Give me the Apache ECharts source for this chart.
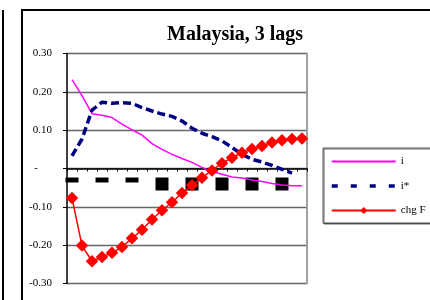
<!DOCTYPE html>
<html>
<head>
<meta charset="utf-8">
<script src="https://cdn.jsdelivr.net/npm/echarts@6/dist/echarts.min.js"></script>
<style>html,body{margin:0;padding:0;background:#fff}#c{width:430px;height:300px}</style>
</head>
<body>
<div id="c"></div>
<script>
var titleText = 'Malaysia, 3 lags';
var categories = ['1','2','3','4','5','6','7','8','9','10','11','12','13','14','15','16','17','18','19','20','21','22','23','24'];
var seriesNames = ['i', 'i*', 'chg F'];
var iVals = [0.232, 0.190, 0.143, 0.139, 0.133, 0.116, 0.101, 0.087, 0.065, 0.050, 0.037, 0.026, 0.016, 0.003, -0.008, -0.015, -0.022, -0.025, -0.030, -0.034, -0.039, -0.043, -0.045, -0.045];
var iStarVals = [0.033, 0.077, 0.152, 0.173, 0.170, 0.172, 0.170, 0.159, 0.150, 0.142, 0.136, 0.124, 0.105, 0.092, 0.083, 0.072, 0.055, 0.037, 0.024, 0.017, 0.008, -0.002, -0.012, null];
var chgFVals = [-0.077, -0.201, -0.242, -0.231, -0.220, -0.205, -0.182, -0.160, -0.133, -0.109, -0.088, -0.064, -0.044, -0.024, -0.005, 0.014, 0.028, 0.041, 0.051, 0.059, 0.068, 0.074, 0.077, 0.078];
var yTicks = { min: -0.3, max: 0.3, step: 0.1 };

var FONT = '"Liberation Serif", "Times New Roman", serif';
var GRID_TOP = 53.5, GRID_BOTTOM = 16.5, H = 300;
var plotH = H - GRID_TOP - GRID_BOTTOM;
var zeroOffset = -plotH * (0 - yTicks.min) / (yTicks.max - yTicks.min);

var chart = echarts.init(document.getElementById('c'), null, { renderer: 'canvas' });
chart.setOption({
  animation: false,
  backgroundColor: '#fff',
  textStyle: { fontFamily: FONT },
  title: {
    text: titleText, left: 162, top: 20,
    textStyle: { fontFamily: FONT, fontSize: 20, fontWeight: 'bold', color: '#000' }
  },
  graphic: [
    { type: 'rect', shape: { x: 22, y: 10, width: 420, height: 300 }, style: { fill: 'none', stroke: '#000', lineWidth: 2 }, silent: true },
    { type: 'line', shape: { x1: 3, y1: 10, x2: 3, y2: 300 }, style: { stroke: '#000', lineWidth: 2 }, silent: true }
  ],
  legend: {
    orient: 'vertical', left: 323, top: 148,
    padding: [8, 20, 7, 7],
    itemWidth: 64, itemHeight: 9, itemGap: 13.5,
    borderColor: '#555', borderWidth: 1, backgroundColor: '#fff',
    shadowColor: 'rgba(0,0,0,0.6)', shadowOffsetX: 1, shadowOffsetY: 1,
    textStyle: { fontFamily: FONT, fontSize: 11, color: '#000' },
    data: [
      { name: seriesNames[0], itemStyle: { opacity: 0 } },
      { name: seriesNames[1], itemStyle: { opacity: 0 }, lineStyle: { type: [6, 13], width: 3.5 } },
      { name: seriesNames[2] }
    ]
  },
  grid: { left: 67, right: 123, top: GRID_TOP, bottom: GRID_BOTTOM },
  xAxis: {
    type: 'category', data: categories, boundaryGap: true,
    position: 'bottom', offset: zeroOffset,
    axisLine: { onZero: false, lineStyle: { color: '#000', width: 1.5 } },
    axisTick: { show: true, length: 3, interval: 0, lineStyle: { color: '#000' } },
    axisLabel: {
      interval: 2, margin: 9, verticalAlign: 'top',
      formatter: function (v) { return (v.length === 1 ? '{a|' : '{b|') + v + '}'; },
      rich: {
        a: { backgroundColor: '#000', color: '#000', width: 13, height: 5, fontSize: 5, lineHeight: 5, align: 'center' },
        b: { backgroundColor: '#000', color: '#000', width: 13, height: 13, fontSize: 10, lineHeight: 13, align: 'center' }
      }
    },
    splitLine: { show: false }
  },
  yAxis: [{
    type: 'value', min: yTicks.min, max: yTicks.max, interval: yTicks.step,
    axisLine: { show: true, lineStyle: { color: '#000', width: 1.5 } },
    axisTick: { show: true, length: 4, lineStyle: { color: '#000' } },
    axisLabel: {
      margin: 15, fontFamily: FONT, fontSize: 11, color: '#000',
      formatter: function (v) {
        if (Math.abs(v) < 1e-9) return '{z|-}';
        return v.toFixed(2);
      },
      rich: { z: { fontFamily: FONT, fontSize: 11, color: '#000', padding: [0, 14, 0, 0] } }
    },
    splitLine: { show: true, lineStyle: { color: '#666', width: 1.3 } }
  }, {
    type: 'value', position: 'right', min: yTicks.min, max: yTicks.max, interval: yTicks.step,
    axisLine: { show: true, lineStyle: { color: '#a0a0a0', width: 2 } },
    axisTick: { show: false }, axisLabel: { show: false }, splitLine: { show: false }
  }],
  series: [
    {
      name: seriesNames[0], type: 'line', data: iVals, symbol: 'none',
      lineStyle: { color: '#ff00ff', width: 1.5 }, itemStyle: { color: '#ff00ff' }, z: 2
    },
    {
      name: seriesNames[1], type: 'line', data: iStarVals, symbol: 'none',
      lineStyle: { color: '#000080', width: 3.5, type: [8, 4] }, itemStyle: { color: '#000080' }, z: 3
    },
    {
      name: seriesNames[2], type: 'line', data: chgFVals, symbol: 'diamond', symbolSize: 12.5, showAllSymbol: true,
      lineStyle: { color: '#ff0000', width: 1.5 }, itemStyle: { color: '#ff0000' }, z: 4
    }
  ]
});
</script>
</body>
</html>
